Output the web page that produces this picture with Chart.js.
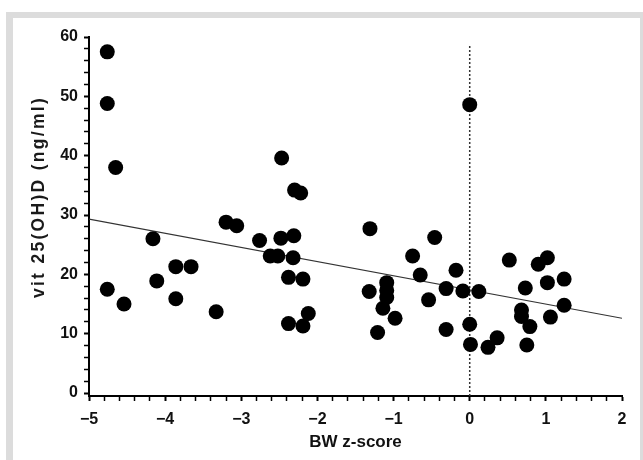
<!DOCTYPE html>
<html>
<head>
<meta charset="utf-8">
<script src="https://cdn.jsdelivr.net/npm/chart.js@4/dist/chart.umd.min.js"></script>
<style>
  html, body { margin: 0; padding: 0; background: #ffffff; overflow: hidden; }
  #frame { position: absolute; left: 6px; top: 12px; width: 700px; height: 500px; background: #dcdcdc; }
  #panel { position: absolute; left: 13px; top: 18px; width: 627px; height: 500px; background: #ffffff; }
  #wrap { position: absolute; left: 0; top: 0; width: 643px; height: 460px; }
</style>
</head>
<body>
<div id="frame"></div>
<div id="panel"></div>
<div id="wrap"><canvas id="c" width="643" height="460"></canvas></div>
<script>
// ---- data ----
const bwZ = [
  -4.76, -4.76, -4.65, -4.76, -4.54, -4.16, -4.11, -3.86, -3.86, -3.66,
  -3.33, -3.20, -3.06, -2.76, -2.62, -2.52, -2.48, -2.31, -2.32, -2.38,
  -2.19, -2.12, -2.38, -2.19, -2.47, -2.30, -2.22, -1.31, -1.32, -1.09,
  -1.09, -1.09, -1.14, -0.98, -1.21, -0.75, -0.65, -0.54, -0.46, -0.31,
  -0.31, -0.18, -0.09, 0.00, 0.00, 0.01, 0.12, 0.24, 0.36, 0.52,
  0.73, 0.68, 0.68, 0.79, 0.75, 0.90, 1.02, 1.02, 1.06, 1.24, 1.24
];
const vitD = [
  57.5, 48.8, 38.0, 17.5, 15.0, 26.0, 18.9, 21.3, 15.9, 21.3,
  13.7, 28.8, 28.2, 25.7, 23.1, 23.1, 26.1, 26.5, 22.8, 19.5,
  19.2, 13.4, 11.7, 11.3, 39.6, 34.2, 33.7, 27.7, 17.1, 18.6,
  17.3, 16.1, 14.3, 12.6, 10.2, 23.1, 19.9, 15.7, 26.2, 17.6,
  10.7, 20.7, 17.2, 48.6, 11.6, 8.2, 17.1, 7.7, 9.3, 22.4,
  17.7, 14.0, 12.9, 11.2, 8.1, 21.7, 22.8, 18.6, 12.8, 19.2, 14.8
];
const fitX = [-5, 2];
const fitY = [29.3, 12.6];
const refLineX = [0, 0];
const refLineY = [-0.5, 58.6];

const xTickLabels = ['\u22125', '\u22124', '\u22123', '\u22122', '\u22121', '0', '1', '2'];
const yTickLabels = ['0', '10', '20', '30', '40', '50', '60'];
const xTitle = 'BW z-score';
const yTitle = 'vit 25(OH)D (ng/ml)';

// ---- chart ----
const FONT = "'Liberation Sans', Arial, sans-serif";
const points = bwZ.map((x, i) => ({ x: x, y: vitD[i] }));
const fitPts = fitX.map((x, i) => ({ x: x, y: fitY[i] }));
const refPts = refLineX.map((x, i) => ({ x: x, y: refLineY[i] }));

const yTitlePlugin = {
  id: 'yTitle',
  afterDraw(chart) {
    const ctx = chart.ctx;
    ctx.save();
    ctx.translate(39, 197);
    ctx.rotate(-Math.PI / 2);
    ctx.font = "bold 17.5px " + FONT;
    ctx.fillStyle = '#1a1a1a';
    ctx.textAlign = 'center';
    ctx.textBaseline = 'middle';
    if ('letterSpacing' in ctx) ctx.letterSpacing = '2.3px';
    ctx.fillText(yTitle, 0, 0);
    ctx.restore();
  }
};

new Chart(document.getElementById('c'), {
  type: 'scatter',
  data: {
    datasets: [
      {
        type: 'scatter',
        data: points,
        backgroundColor: '#000000',
        borderWidth: 0,
        pointRadius: 7.5,
        pointHoverRadius: 7.5,
        order: 0
      },
      {
        type: 'line',
        data: fitPts,
        borderColor: '#333333',
        borderWidth: 1.2,
        pointRadius: 0,
        fill: false,
        order: 2
      },
      {
        type: 'line',
        data: refPts,
        borderColor: '#333333',
        borderWidth: 1.5,
        borderDash: [2, 2],
        pointRadius: 0,
        fill: false,
        order: 1
      }
    ]
  },
  options: {
    responsive: false,
    animation: false,
    layout: { padding: { left: 0, right: 21, top: 37, bottom: 0 } },
    plugins: { legend: { display: false }, tooltip: { enabled: false } },
    scales: {
      x: {
        type: 'linear',
        min: -5,
        max: 2,
        afterBuildTicks(scale) {
          const t = [];
          for (let i = 0; i <= 35; i++) t.push({ value: -5 + i * 0.2 });
          scale.ticks = t;
        },
        afterFit(scale) { scale.height = 64; },
        grid: {
          drawOnChartArea: false,
          drawTicks: true,
          tickLength: 5,
          tickColor: '#000',
          tickWidth: (ctx) => (ctx.index % 5 === 0 ? 2 : 1.5)
        },
        border: { display: true, color: '#000', width: 2 },
        ticks: {
          autoSkip: false,
          maxRotation: 0,
          padding: 9,
          color: '#111',
          font: { family: FONT, size: 16, weight: 'bold' },
          callback: (v, i) => (i % 5 === 0 ? xTickLabels[i / 5] : '')
        },
        title: {
          display: true,
          text: xTitle,
          color: '#111',
          font: { family: FONT, size: 17, weight: 'bold' },
          padding: { top: 0, bottom: 7 }
        }
      },
      y: {
        type: 'linear',
        min: -0.5,
        max: 60,
        afterBuildTicks(scale) {
          const t = [];
          for (let i = 0; i <= 30; i++) t.push({ value: i * 2 });
          scale.ticks = t;
        },
        afterFit(scale) { scale.width = 89; },
        grid: {
          drawOnChartArea: false,
          drawTicks: true,
          tickLength: 5,
          tickColor: '#000',
          tickWidth: (ctx) => (ctx.index % 5 === 0 ? 2 : 1.5)
        },
        border: { display: true, color: '#000', width: 2 },
        ticks: {
          autoSkip: false,
          padding: 6,
          color: '#111',
          font: { family: FONT, size: 16, weight: 'bold' },
          callback: (v, i) => (i % 5 === 0 ? yTickLabels[i / 5] : '')
        },
        title: { display: false }
      }
    }
  },
  plugins: [yTitlePlugin]
});
</script>
</body>
</html>
